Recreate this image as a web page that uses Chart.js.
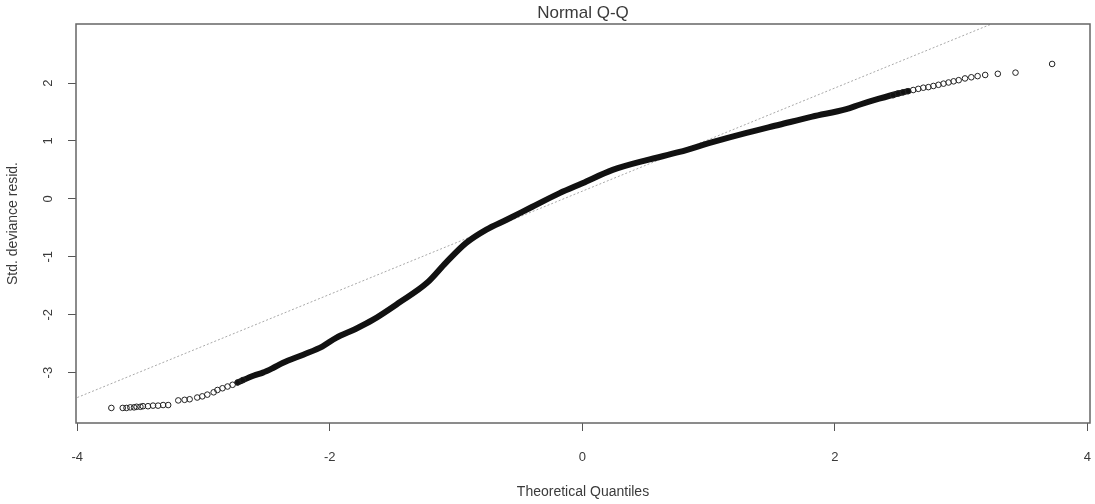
<!DOCTYPE html>
<html>
<head>
<meta charset="utf-8">
<title>Normal Q-Q</title>
<script src="https://cdn.jsdelivr.net/npm/chart.js@4.4.0/dist/chart.umd.min.js"></script>
<style>
  html, body { margin: 0; padding: 0; background: #fff; }
  #wrap { width: 1095px; height: 504px; }
</style>
</head>
<body>
<div id="wrap"><canvas id="qq"></canvas></div>
<script>
'use strict';

// ---- Text ----
const TITLE   = 'Normal Q-Q';
const X_LABEL = 'Theoretical Quantiles';
const Y_LABEL = 'Std. deviance resid.';

// ---- Axes ----
const X_TICKS = [-4, -2, 0, 2, 4];
const Y_TICKS = [-3, -2, -1, 0, 1, 2];
const X_RANGE = [-4.01, 4.02];
const Y_RANGE = [-3.87, 3.02];

// ---- Lower tail (separate circles) ----
const LOW_X = [-3.73, -3.64, -3.61, -3.58, -3.55, -3.53, -3.50, -3.48, -3.44, -3.40, -3.36, -3.32, -3.28,
               -3.20, -3.15, -3.11, -3.05, -3.01, -2.97, -2.92, -2.89, -2.85, -2.81, -2.77, -2.73, -2.69];
const LOW_Y = [-3.61, -3.61, -3.61, -3.60, -3.60, -3.59, -3.59, -3.58, -3.58, -3.57, -3.57, -3.56, -3.56,
               -3.48, -3.47, -3.46, -3.43, -3.41, -3.38, -3.34, -3.30, -3.27, -3.24, -3.21, -3.17, -3.13];

// ---- Middle (points overlap into a solid band) ----
const MID_X = [-2.73, -2.60, -2.53, -2.45, -2.37, -2.21, -2.06, -1.95, -1.80, -1.66, -1.45, -1.23, -1.08,
               -0.92, -0.76, -0.60, -0.40, -0.18, 0.00, 0.24, 0.51, 0.77, 1.03, 1.30, 1.56, 1.82, 2.09,
               2.20, 2.35, 2.50, 2.58];
const MID_Y = [-3.17, -3.05, -3.00, -2.92, -2.83, -2.69, -2.55, -2.40, -2.25, -2.09, -1.79, -1.45, -1.10,
               -0.76, -0.53, -0.36, -0.14, 0.10, 0.27, 0.50, 0.67, 0.81, 0.98, 1.14, 1.28, 1.42, 1.55,
               1.63, 1.73, 1.82, 1.86];

// ---- Upper tail (separate circles) ----
const HIGH_X = [2.46, 2.50, 2.54, 2.58, 2.62, 2.66, 2.70, 2.74, 2.78, 2.82, 2.86, 2.90, 2.94, 2.98,
                3.03, 3.08, 3.13, 3.19, 3.29, 3.43, 3.72];
const HIGH_Y = [1.79, 1.82, 1.84, 1.86, 1.88, 1.90, 1.92, 1.93, 1.95, 1.97, 1.99, 2.01, 2.03, 2.05,
                2.08, 2.10, 2.12, 2.14, 2.16, 2.18, 2.33];

// ---- Reference line (qqline) end points ----
const LINE_X = [-4.00, 3.24];
const LINE_Y = [-3.43, 3.02];

const FONT = '"Liberation Sans", Arial, Helvetica, sans-serif';
const TEXT = '#3a3a3a';

const toPoints = (xs, ys) => xs.map((x, i) => ({ x, y: ys[i] }));

// box around the plot + main title (R style)
const frame = {
  id: 'frame',
  afterDraw(chart) {
    const { ctx, chartArea: a } = chart;
    ctx.save();
    ctx.strokeStyle = '#666';
    ctx.lineWidth = 1.5;
    ctx.strokeRect(a.left, a.top, a.right - a.left, a.bottom - a.top);
    ctx.fillStyle = TEXT;
    ctx.font = '17px ' + FONT;
    ctx.textAlign = 'center';
    ctx.textBaseline = 'middle';
    ctx.fillText(TITLE, (a.left + a.right) / 2, 13);
    ctx.restore();
  }
};

new Chart(document.getElementById('qq'), {
  type: 'scatter',
  data: {
    datasets: [
      {
        label: 'tails',
        data: toPoints(LOW_X, LOW_Y).concat(toPoints(HIGH_X, HIGH_Y)),
        pointStyle: 'circle',
        pointRadius: 2.8,
        borderWidth: 1,
        borderColor: '#222',
        backgroundColor: 'rgba(0,0,0,0)',
      },
      {
        label: 'band',
        data: toPoints(MID_X, MID_Y),
        showLine: true,
        borderWidth: 6,
        borderColor: '#111',
        pointRadius: 0,
        cubicInterpolationMode: 'monotone',
        borderCapStyle: 'round',
      },
      {
        label: 'qqline',
        data: toPoints(LINE_X, LINE_Y),
        showLine: true,
        borderWidth: 1,
        borderColor: '#a8a8a8',
        borderDash: [2, 2],
        pointRadius: 0,
      },
    ],
  },
  options: {
    responsive: true,
    maintainAspectRatio: false,
    animation: false,
    events: [],
    layout: { padding: { left: 0, top: 24, right: 3, bottom: 0 } },
    plugins: {
      legend: { display: false },
      tooltip: { enabled: false },
    },
    scales: {
      x: {
        type: 'linear',
        min: X_RANGE[0],
        max: X_RANGE[1],
        afterBuildTicks: s => { s.ticks = X_TICKS.map(v => ({ value: v })); },
        afterFit: s => { s.height = 81; s.paddingLeft = 0; s.paddingRight = 0; },
        border: { display: false },
        grid: { display: true, drawOnChartArea: false, drawTicks: true, tickLength: 8, color: '#555' },
        ticks: { color: TEXT, font: { family: FONT, size: 13 }, padding: 19, maxRotation: 0, autoSkip: false },
        title: { display: true, text: X_LABEL, color: TEXT, font: { family: FONT, size: 14 }, padding: { top: 0, bottom: 3 } },
      },
      y: {
        type: 'linear',
        min: Y_RANGE[0],
        max: Y_RANGE[1],
        afterBuildTicks: s => { s.ticks = Y_TICKS.map(v => ({ value: v })); },
        afterFit: s => { s.width = 76; s.paddingTop = 0; s.paddingBottom = 0; },
        border: { display: false },
        grid: { display: true, drawOnChartArea: false, drawTicks: true, tickLength: 8, color: '#555' },
        ticks: { color: TEXT, font: { family: FONT, size: 13 }, padding: 14, minRotation: 90, maxRotation: 90, crossAlign: 'center', autoSkip: false },
        title: { display: true, text: Y_LABEL, color: TEXT, font: { family: FONT, size: 14 }, padding: { top: 5, bottom: 0 } },
      },
    },
  },
  plugins: [frame],
});
</script>
</body>
</html>
